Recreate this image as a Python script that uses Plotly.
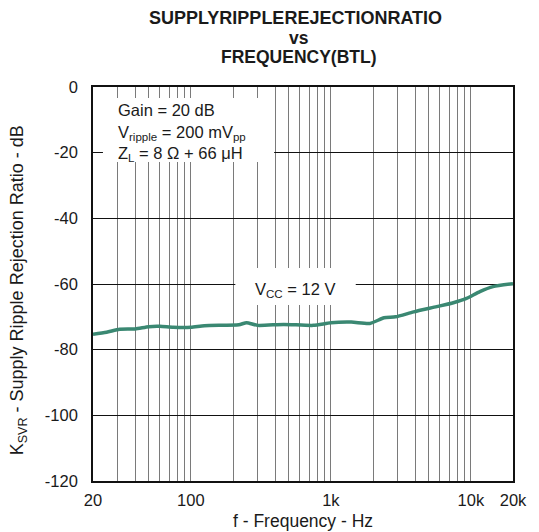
import plotly.graph_objects as go

# Data
freq_hz = [20, 25, 31, 40, 50, 60, 75, 100, 125, 220, 250, 300, 460, 750, 1000,
           1400, 1900, 2400, 2900, 3900, 5700, 7500, 9300, 11600, 14400, 20000]
ksvr_db = [-75.3, -74.7, -73.8, -73.7, -73.0, -72.9, -73.2, -73.2, -72.7, -72.4,
           -71.8, -72.6, -72.3, -72.6, -71.8, -71.6, -72.0, -70.3, -70.0, -68.5,
           -66.9, -65.7, -64.4, -62.3, -60.8, -59.9]

grid_freqs = [20, 30, 40, 50, 60, 70, 80, 90, 100, 200, 300, 400, 500, 600, 700, 800, 900,
              1000, 2000, 3000, 4000, 5000, 6000, 7000, 8000, 9000, 10000, 20000]
labeled = {20: "20", 100: "100", 1000: "1k", 10000: "10k", 20000: "20k"}
x_ticktext = [labeled.get(f, "") for f in grid_freqs]
y_ticks = [0, -20, -40, -60, -80, -100, -120]
y_ticktext = ["0", "-20", "-40", "-60", "-80", "-100", "-120"]

# page body adds an 8px offset; work in page pixels and subtract it
OFF = 8
W, H = 539 - OFF, 532 - OFF
L, R, T, B = 93 - OFF, 515 - OFF, 87 - OFF, 481 - OFF

def px(x):
    return (x - OFF - L) / (R - L)

def py(y):
    return (B - (y - OFF)) / (B - T)

FONT = "Liberation Sans, Arial, sans-serif"
TXT = "#1a1a1a"

fig = go.Figure()
fig.add_trace(go.Scatter(x=freq_hz, y=ksvr_db, mode="lines",
                         line=dict(color="#3a8872", width=3.5, shape="spline", smoothing=0.6),
                         showlegend=False, hoverinfo="skip"))

fig.update_layout(
    width=W, height=H,
    margin=dict(l=L, r=W - R, t=T, b=H - B),
    paper_bgcolor="white", plot_bgcolor="white",
    font=dict(family=FONT, size=16, color=TXT),
    showlegend=False,
    xaxis=dict(type="log", range=[1.30103, 4.30103],
               tickmode="array", tickvals=grid_freqs, ticktext=x_ticktext,
               showgrid=True, gridcolor="#7a7a7a", gridwidth=1.4,
               showline=True, linecolor="#111", linewidth=1.6, mirror=True,
               ticks="", ticklabelstandoff=3, zeroline=False,
               tickfont=dict(size=16.5, color=TXT)),
    yaxis=dict(range=[-120, 0], tickmode="array", tickvals=y_ticks, ticktext=y_ticktext,
               showgrid=True, gridcolor="#111", gridwidth=1,
               showline=True, linecolor="#111", linewidth=1.6, mirror=True,
               ticks="", ticklabelstandoff=10, zeroline=False,
               tickfont=dict(size=16.5, color=TXT)),
)

# white boxes behind inset texts
for x0, x1, y0, y1 in [(103, 275, 98, 162), (236, 357, 268, 305)]:
    fig.add_shape(type="rect", xref="paper", yref="paper",
                  x0=px(x0), x1=px(x1), y0=py(y1), y1=py(y0),
                  fillcolor="white", line=dict(width=0), layer="above")

def ann(text, x, y, size=16, xanchor="center", bold=False, angle=0):
    fig.add_annotation(text=("<b>%s</b>" % text) if bold else text,
                       xref="paper", yref="paper", x=px(x), y=py(y),
                       xanchor=xanchor, yanchor="middle", showarrow=False,
                       textangle=angle,
                       font=dict(family=FONT, size=size, color=TXT))

# title
ann("SUPPLYRIPPLEREJECTIONRATIO", 296, 18, size=18, bold=True)
ann("vs", 300, 38, size=17.5, bold=True)
ann("FREQUENCY(BTL)", 300, 57, size=17.5, bold=True)

# inset conditions
ann("Gain = 20 dB", 116, 110, size=16.5, xanchor="left")
ann("V<sub>ripple</sub> = 200 mV<sub>pp</sub>", 116, 133, size=16.5, xanchor="left")
ann("Z<sub>L</sub> = 8 Ω + 66 μH", 116, 154, size=16.5, xanchor="left")
ann("V<sub>CC</sub> = 12 V", 296, 290, size=16.5)

# axis titles
ann("f - Frequency - Hz", 304, 521, size=17.5)
ann("K<sub>SVR</sub> - Supply Ripple Rejection Ratio - dB", 18, 290, size=18, angle=-90)

fig.write_html("out.html")
